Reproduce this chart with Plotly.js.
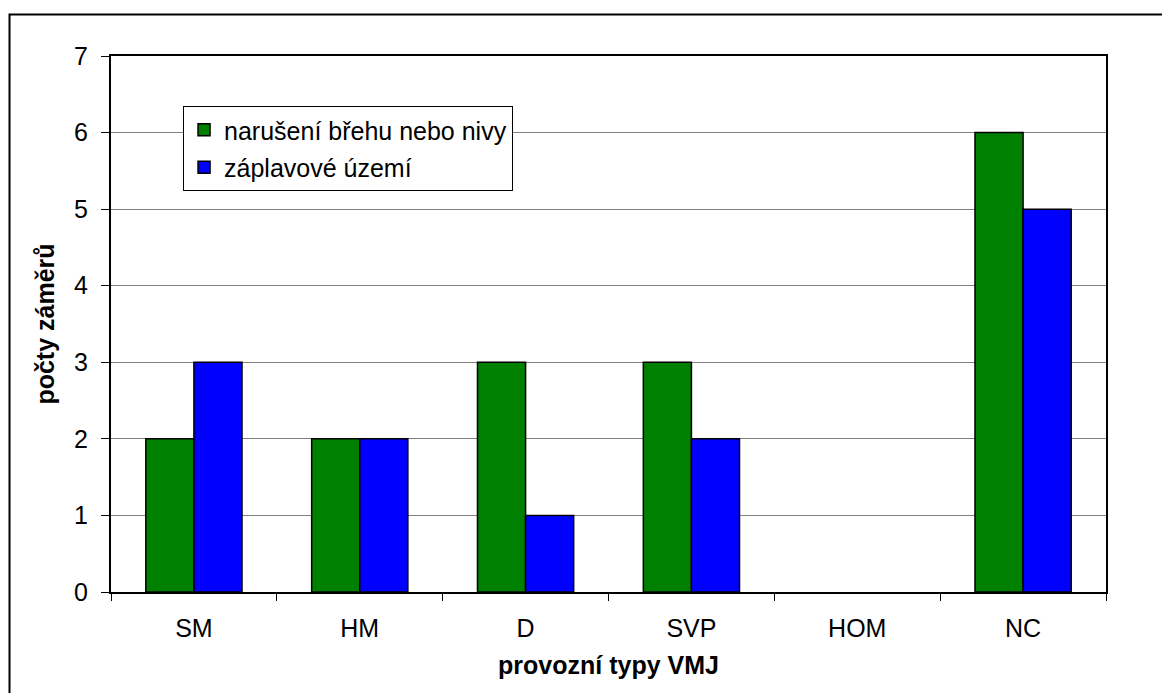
<!DOCTYPE html>
<html>
<head>
<meta charset="utf-8">
<script src="https://cdn.plot.ly/plotly-3.0.1.min.js"></script>
<style>
html,body{margin:0;padding:0;background:#fff;overflow:hidden;}
#chart{width:1162px;height:693px;}
</style>
</head>
<body>
<div id="chart"></div>
<script>
const categories = ["SM", "HM", "D", "SVP", "HOM", "NC"];
const seriesNames = ["narušení břehu nebo nivy", "záplavové území"];
const bankValues = [2, 2, 3, 3, 0, 6];
const floodValues = [3, 2, 1, 2, 0, 5];
const yTicks = [0, 1, 2, 3, 4, 5, 6, 7];

const FONT = "Liberation Sans, Arial, sans-serif";

function outlineWidths(vals) { return vals.map(v => (v === 0 ? 0 : 1.5)); }

const traces = [
  {
    type: "bar", name: seriesNames[0], x: categories, y: bankValues,
    legendgroup: "a",
    marker: {color: "#008000", line: {color: "#000000", width: outlineWidths(bankValues)}}
  },
  {
    type: "bar", name: seriesNames[1], x: categories, y: floodValues,
    legendgroup: "b",
    marker: {color: "#0000FF", line: {color: "#000000", width: outlineWidths(floodValues)}}
  }
];

const layout = {
  width: 1162, height: 693,
  margin: {l: 111, r: 56, t: 56, b: 101, pad: 0},
  paper_bgcolor: "#ffffff", plot_bgcolor: "#ffffff",
  font: {family: FONT, size: 25, color: "#000000"},
  barmode: "group", bargap: 0.42, bargroupgap: 0,
  showlegend: true,
  legend: {
    x: 0.0724, y: 0.9067, xanchor: "left", yanchor: "top",
    bgcolor: "#ffffff", bordercolor: "#000000", borderwidth: 1,
    font: {family: FONT, size: 25, color: "#000000"},
    traceorder: "grouped", tracegroupgap: 2
  },
  xaxis: {
    type: "category",
    showline: true, linecolor: "#000000", linewidth: 2, mirror: true,
    ticks: "outside", ticklen: 7, tickwidth: 1, tickcolor: "#000000",
    tickson: "boundaries", showgrid: false,
    tickfont: {family: FONT, size: 25, color: "#000000"},
    ticklabelstandoff: 13,
    title: {text: "provozní typy VMJ", font: {family: FONT, size: 25, color: "#000000", weight: "bold"}, standoff: 15},
    automargin: false
  },
  yaxis: {
    range: [0, 7], tickvals: yTicks, ticktext: yTicks.map(String),
    showline: true, linecolor: "#000000", linewidth: 2, mirror: true,
    ticks: "outside", ticklen: 8, tickwidth: 1, tickcolor: "#000000",
    showgrid: true, gridcolor: "#808080", gridwidth: 1,
    zeroline: false,
    tickfont: {family: FONT, size: 25, color: "#000000"},
    ticklabelstandoff: 8,
    title: {text: "počty záměrů", font: {family: FONT, size: 25, color: "#000000", weight: "bold"}, standoff: 12},
    automargin: false
  },
  shapes: [
    {type: "rect", xref: "paper", yref: "paper", x0: -0.102, x1: 1.2, y0: -0.3, y1: 1.0774,
     line: {color: "#000000", width: 2}, fillcolor: "rgba(0,0,0,0)", layer: "below"}
  ]
};

Plotly.newPlot("chart", traces, layout, {displayModeBar: false, staticPlot: true});
</script>
</body>
</html>
